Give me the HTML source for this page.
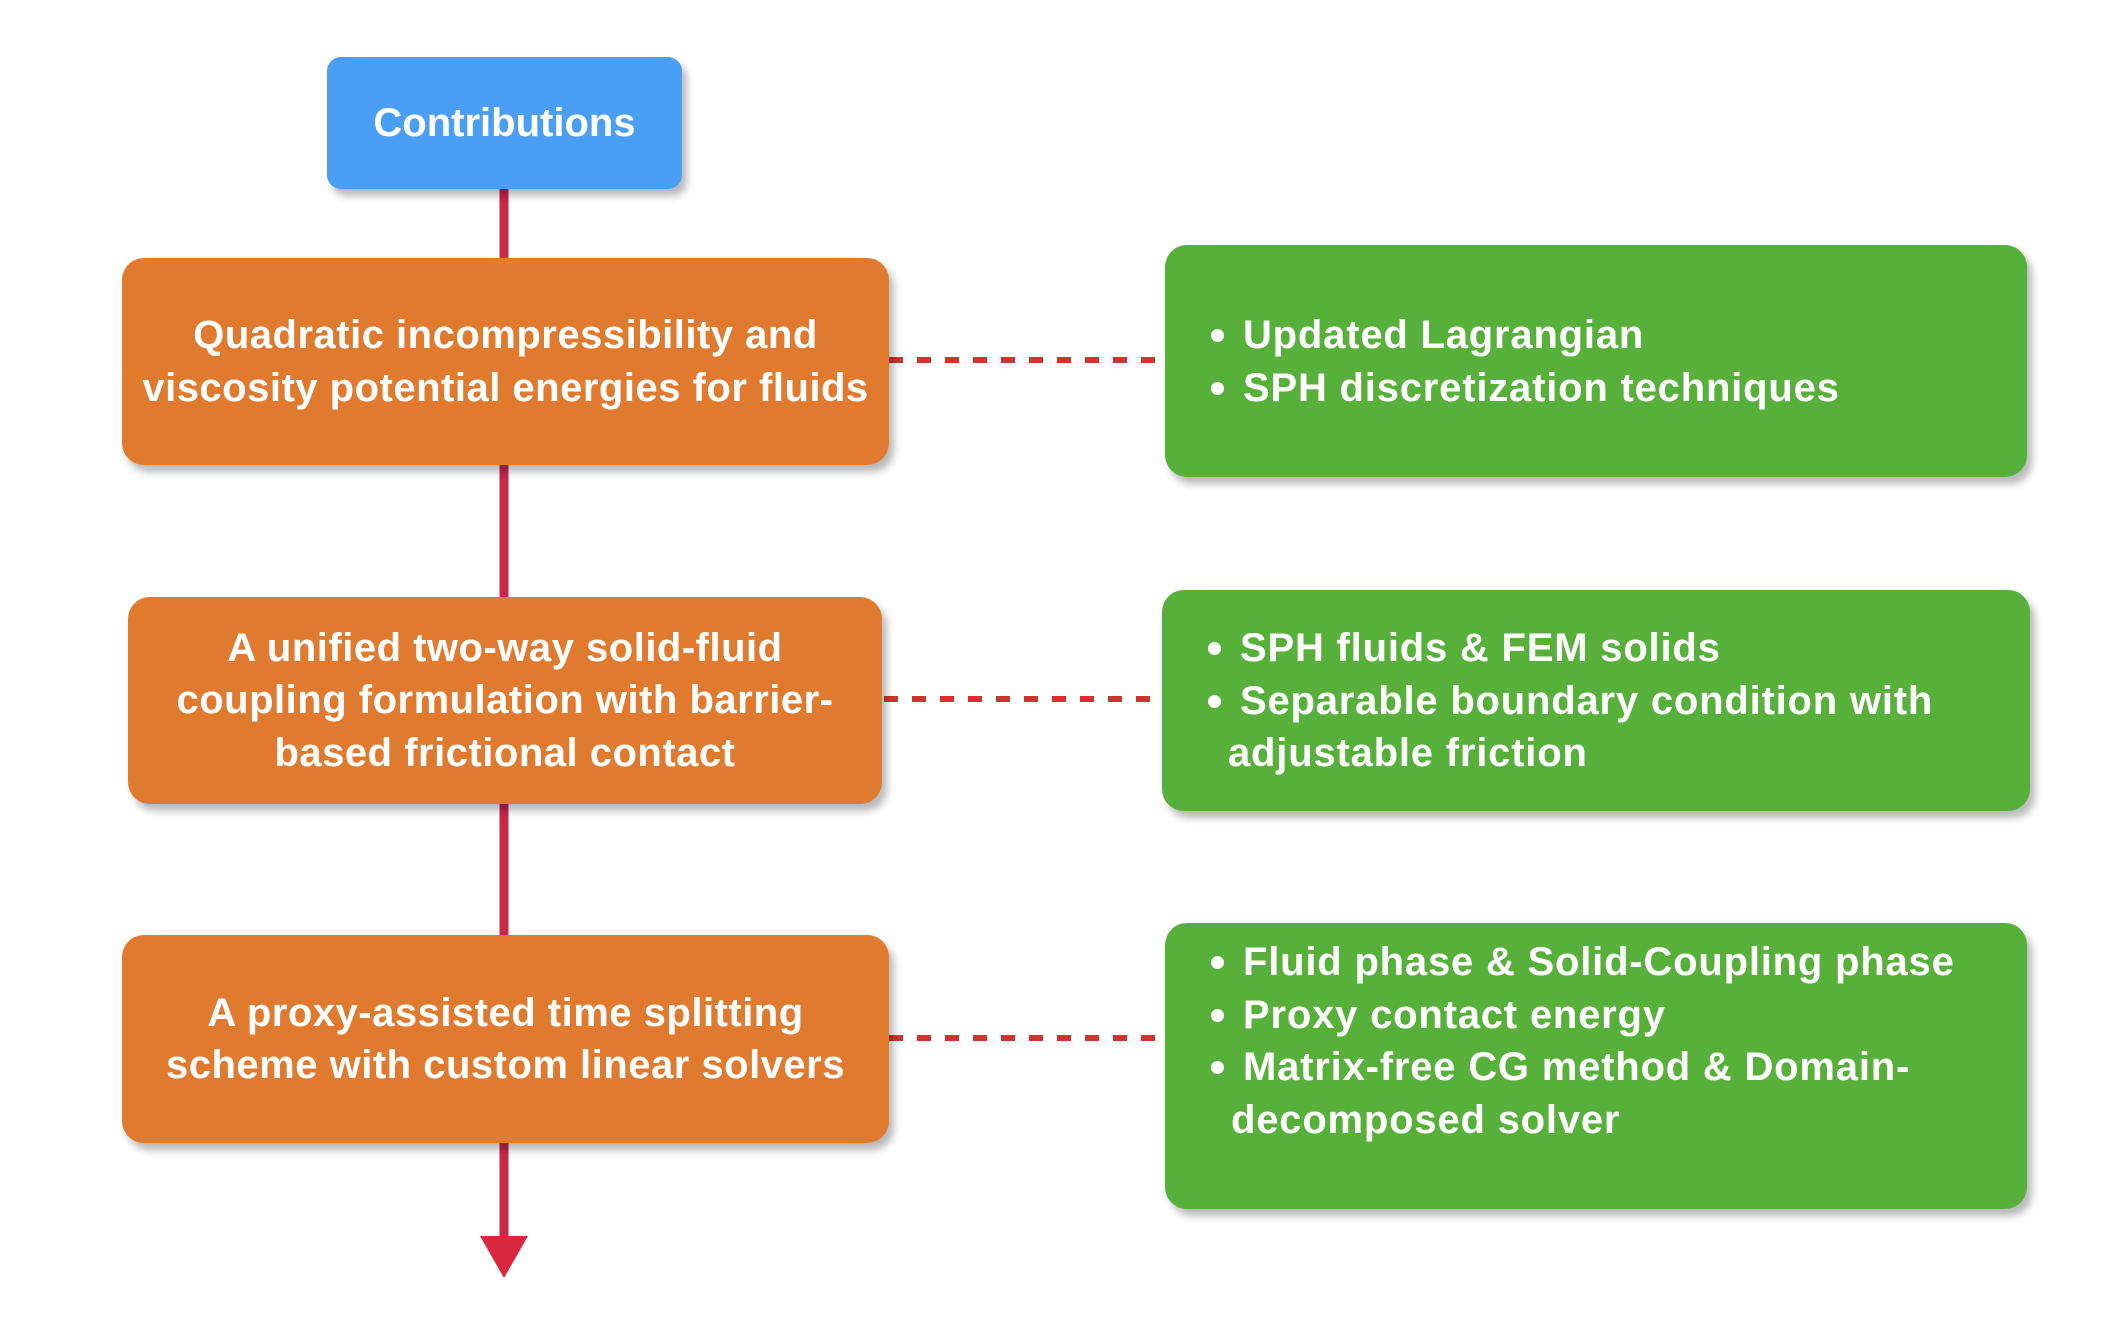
<!DOCTYPE html>
<html><head><meta charset="utf-8"><style>
body{margin:0;width:2108px;height:1334px;background:#fff;position:relative;overflow:hidden;font-family:"Liberation Sans",Arial,sans-serif;}
.b{position:absolute;border-radius:22px;box-shadow:5px 7px 8px rgba(0,0,0,0.28);color:#fff;font-weight:bold;}
.o{background:#e07a2f;display:flex;align-items:center;justify-content:center;text-align:center;font-size:40px;line-height:52.5px;letter-spacing:0.5px;}
.g{background:#57b03a;font-size:40px;line-height:52.5px;letter-spacing:0.8px;}
.g ul{margin:0;padding:0;list-style:none;position:absolute;left:46px;}
.g li{position:relative;padding-left:32px;}
.g li:before{content:"";position:absolute;left:0;top:20px;width:13px;height:13px;border-radius:50%;background:#fff;}
</style></head><body>
<svg width="2108" height="1334" style="position:absolute;left:0;top:0">
<line x1="504" y1="185" x2="504" y2="1245" stroke="#c8264a" stroke-width="9"/>
<polygon points="480,1236 528,1236 504,1278" fill="#d8283e"/>
<g stroke="#d0342c" stroke-width="6" stroke-dasharray="14,14">
<line x1="889" y1="360" x2="1160" y2="360"/>
<line x1="884" y1="699" x2="1158" y2="699"/>
<line x1="889" y1="1038" x2="1160" y2="1038"/>
</g>
</svg>
<div class="b" style="left:327px;top:57px;width:355px;height:132px;background:#4a9ff5;display:flex;align-items:center;justify-content:center;font-size:40px;border-radius:14px;">Contributions</div>
<div class="b o" style="left:122px;top:258px;width:767px;height:207px;">Quadratic incompressibility and<br>viscosity potential energies for fluids</div>
<div class="b o" style="left:128px;top:597px;width:754px;height:207px;">A unified two-way solid-fluid<br>coupling formulation with barrier-<br>based frictional contact</div>
<div class="b o" style="left:122px;top:935px;width:767px;height:208px;">A proxy-assisted time splitting<br>scheme with custom linear solvers</div>
<div class="b g" style="left:1165px;top:245px;width:862px;height:232px;"><ul style="top:64px"><li>Updated Lagrangian</li><li>SPH discretization techniques</li></ul></div>
<div class="b g" style="left:1162px;top:590px;width:868px;height:221px;"><ul style="top:32px"><li>SPH fluids &amp; FEM solids</li><li>Separable boundary condition with<br><span style="margin-left:-12px">adjustable friction</span></li></ul></div>
<div class="b g" style="left:1165px;top:923px;width:862px;height:286px;"><ul style="top:13px"><li>Fluid phase &amp; Solid-Coupling phase</li><li>Proxy contact energy</li><li>Matrix-free CG method &amp; Domain-<br><span style="margin-left:-12px">decomposed solver</span></li></ul></div>
</body></html>
